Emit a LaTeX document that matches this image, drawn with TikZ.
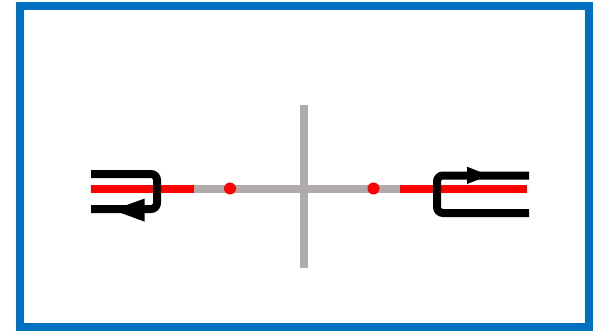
\documentclass[tikz,border=0pt]{standalone}
\definecolor{framec}{HTML}{0070C0}
\definecolor{axisc}{HTML}{AFABAB}
\definecolor{redc}{HTML}{FF0000}
\tikzset{
  framebox/.style={draw=framec,line width=8pt,fill=white},
  axisline/.style={draw=axisc,line width=8pt},
  redline/.style={draw=redc,line width=8pt},
  loopline/.style={draw=black,line width=8pt,rounded corners=6pt},
  reddot/.style={fill=redc},
  headfill/.style={fill=black}
}
\begin{document}
\begin{tikzpicture}[x=1pt,y=-1pt]
\useasboundingbox (0,0) rectangle (593,331);
\fill[white] (0,0) rectangle (593,331);
\draw[framebox] (20,6) rectangle (589,327);
\draw[axisline] (303.5,105) -- (303.5,268);
\draw[axisline] (190,189) -- (402,189);
\draw[redline] (91,189) -- (194,189);
\draw[redline] (400,188.5) -- (527,188.5);
\fill[reddot] (230,188.5) circle (6);
\fill[reddot] (373.5,188.5) circle (6);
\draw[loopline] (91,174) -- (157,174) -- (157,209) -- (91,209);
\draw[loopline] (529,175.5) -- (437,175.5) -- (437,213) -- (529,213);
\fill[headfill] (144.7,198.5) -- (113,210) -- (144.7,221.7) -- cycle;
\fill[headfill] (467,166.7) -- (489,175.5) -- (467,184) -- cycle;
\end{tikzpicture}
\end{document}
